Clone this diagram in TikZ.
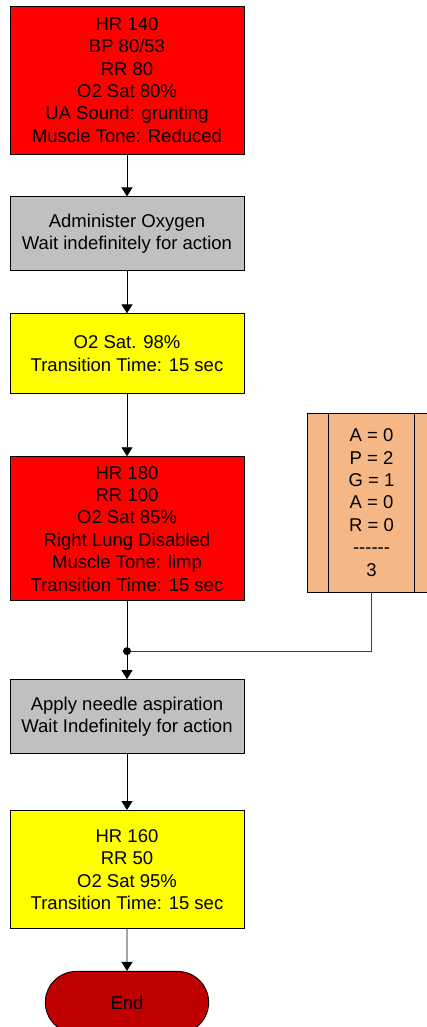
\documentclass[tikz,border=0pt]{standalone}
\usepackage{fontspec}
\setmainfont{Liberation Sans}
\usetikzlibrary{arrows.meta, positioning, shapes.misc}
\definecolor{alarmred}{HTML}{FF0000}
\definecolor{waitgray}{HTML}{C0C0C0}
\definecolor{okyellow}{HTML}{FFFF00}
\definecolor{scoreorange}{HTML}{F6B786}
\definecolor{enddark}{HTML}{C00000}

\begin{document}
\begin{tikzpicture}[
  x=1pt, y=1pt,
  node distance=42pt,
  box/.style={rectangle, draw=black, line width=0.9pt, minimum width=234pt,
              inner sep=0pt, align=center, font=\fontsize{18.5}{22.4}\selectfont},
  vitals/.style={box, fill=alarmred},
  waitbox/.style={box, fill=waitgray, minimum height=74pt},
  okbox/.style={box, fill=okyellow},
  scorebox/.style={box, fill=scoreorange, minimum width=129pt, minimum height=179pt},
  endbox/.style={rounded rectangle, draw=black, line width=0.9pt, fill=enddark,
                 minimum width=170pt, minimum height=62pt, font=\fontsize{18.5}{22.4}\selectfont},
  arrow/.style={-{Triangle[length=9pt, width=11pt]}, line width=0.9pt},
  link/.style={line width=0.9pt, draw=black!75}
]
  \useasboundingbox (0,0) rectangle (427,-1027);

  \node[vitals, minimum height=148pt] (start) at (127,-80)
    {HR 140\\BP 80/53\\RR 80\\O2 Sat 80\%\\UA Sound: grunting\\Muscle Tone: Reduced};
  \node[waitbox, below=of start] (oxygen)
    {Administer Oxygen\\Wait indefinitely for action};
  \node[okbox, minimum height=80pt, below=of oxygen] (sat)
    {O2 Sat. 98\%\\Transition Time: 15 sec};
  \node[vitals, minimum height=144pt, below=62pt of sat] (lung)
    {HR 180\\RR 100\\O2 Sat 85\%\\Right Lung Disabled\\Muscle Tone: limp\\Transition Time: 15 sec};
  \node[waitbox, below=78pt of lung] (needle)
    {Apply needle aspiration\\Wait Indefinitely for action};
  \node[okbox, minimum height=118pt, below=56pt of needle] (recover)
    {HR 160\\RR 50\\O2 Sat 95\%\\Transition Time: 15 sec};
  \node[endbox, below=of recover] (finish) {End};

  % apgar score
  \node[scorebox] (score) at (371.5,-502.5)
    {A = 0\\P = 2\\G = 1\\A = 0\\R = 0\\{-}{-}{-}{-}{-}{-}\\3};
  \draw[line width=0.9pt] ([xshift=22pt]score.north west) -- ([xshift=22pt]score.south west);
  \draw[line width=0.9pt] ([xshift=-22pt]score.north east) -- ([xshift=-22pt]score.south east);

  \coordinate[below=50pt of lung.south] (join);

  \draw[arrow] (start) -- (oxygen);
  \draw[arrow] (oxygen) -- (sat);
  \draw[arrow] (sat) -- (lung);
  \draw[arrow] (lung) -- (needle);
  \draw[arrow] (needle) -- (recover);
  \draw[arrow] (recover) -- (finish);
  \draw[link] (score.south) |- (join);
  \fill (join) circle (4pt);
\end{tikzpicture}
\end{document}
